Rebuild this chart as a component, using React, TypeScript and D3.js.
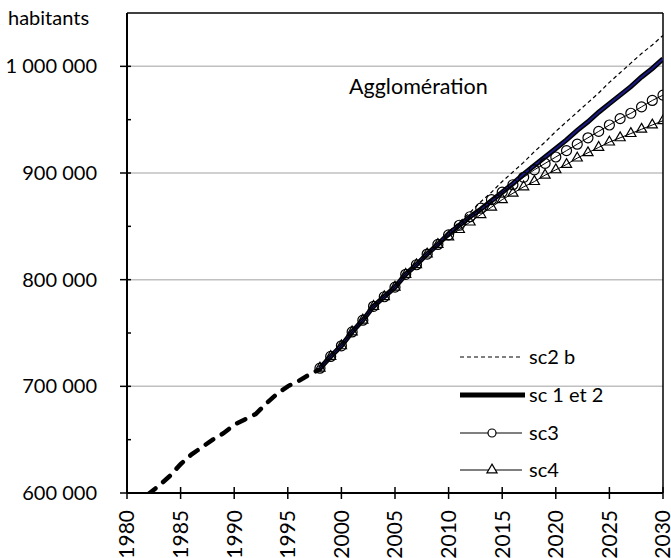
import React from "react";
import * as d3 from "d3";

const W = 671;
const H = 558;
const PL = 127, PR = 663, PT = 13, PB = 493;

// historical (thousands of inhabitants)
const histYears = [1982, 1983, 1984, 1985, 1986, 1987, 1988, 1989, 1990, 1991, 1992, 1993, 1994, 1995, 1996, 1997, 1998];
const histValues = [599, 607, 616, 627, 636, 643, 650, 656, 664, 669, 674, 684, 693, 700, 705, 711, 716];

const projYears = [1998, 1999, 2000, 2001, 2002, 2003, 2004, 2005, 2006, 2007, 2008, 2009, 2010, 2011, 2012, 2013, 2014, 2015, 2016, 2017, 2018, 2019, 2020, 2021, 2022, 2023, 2024, 2025, 2026, 2027, 2028, 2029, 2030];
const sc12 = [717, 728, 738, 751, 762, 775, 784, 793, 805, 814, 824, 833, 843, 851, 859, 866, 874, 882, 890, 899, 907, 915, 923, 931, 940, 948, 957, 965, 973, 981, 990, 998, 1007];
const sc2b = [717, 728, 738, 751, 762, 775, 784, 793, 805, 814, 824, 833, 845, 854, 863, 873, 882, 892, 901, 910, 920, 929, 939, 948, 957, 966, 975, 985, 994, 1003, 1012, 1020, 1029];
const sc3 = [717, 728, 738, 751, 762, 775, 784, 793, 805, 814, 824, 833, 842, 851, 859, 867, 875, 882, 889, 896, 903, 909, 915, 921, 927, 933, 939, 945, 951, 956, 962, 968, 973];
const sc4 = [717, 728, 738, 751, 762, 775, 784, 793, 805, 814, 824, 833, 840, 847, 854, 861, 868, 875, 881, 887, 892, 898, 903, 908, 914, 919, 924, 929, 933, 937, 941, 945, 949];

const xTicks = [1980, 1985, 1990, 1995, 2000, 2005, 2010, 2015, 2020, 2025, 2030];
const yTicks = [600000, 700000, 800000, 900000, 1000000];
const yMinorTicks = [650000, 750000, 850000, 950000];
const legendLabels = ["sc2 b", "sc 1 et 2", "sc3", "sc4"];

const FONT = "Lato, 'Liberation Sans', sans-serif";

export default function App() {
  const x = d3.scaleLinear().domain([1980, 2030]).range([PL, PR]);
  const y = d3.scaleLinear().domain([600000, 1050000]).range([PB, PT]);
  const fmt = (v: number) => d3.format(",")(v).replace(/,/g, " ");

  const lineP = d3
    .line<[number, number]>()
    .x((d) => x(d[0]))
    .y((d) => y(d[1] * 1000));
  const pts = (ys: number[], vs: number[]) => ys.map((yr, i) => [yr, vs[i]] as [number, number]);

  const tri = d3.symbol().type(d3.symbolTriangle).size(45)();

  const legendY = [357, 395, 433, 470];
  const lx0 = 460, lx1 = 522, ltx = 529;

  return (
    <svg width={W} height={H} style={{ position: "absolute", left: 0, top: 0 }} fontFamily={FONT}>
      <rect width={W} height={H} fill="#fff" />
      <defs>
        <clipPath id="plot">
          <rect x={PL} y={PT} width={PR - PL} height={PB - PT} />
        </clipPath>
      </defs>
      {/* gridlines */}
      {yTicks.slice(1).map((t) => (
        <line key={t} x1={PL} x2={PR} y1={y(t)} y2={y(t)} stroke="#c0c0c0" strokeWidth={1.5} />
      ))}
      {/* frame */}
      <line x1={PL} x2={PR} y1={PT} y2={PT} stroke="#000" strokeWidth={1.5} />
      <line x1={PR} x2={PR} y1={PT} y2={PB} stroke="#000" strokeWidth={1.5} />
      {/* y axis */}
      <line x1={PL} x2={PL} y1={PT} y2={PB} stroke="#000" strokeWidth={2} />
      {yTicks.map((t) => (
        <g key={t}>
          <line x1={PL - 7} x2={PL + 4} y1={y(t)} y2={y(t)} stroke="#000" strokeWidth={1.5} />
          <text x={97} y={y(t)} dy="0.35em" textAnchor="end" fontSize={20}>
            {fmt(t)}
          </text>
        </g>
      ))}
      {yMinorTicks.map((t) => (
        <line key={t} x1={PL} x2={PL + 4} y1={y(t)} y2={y(t)} stroke="#000" strokeWidth={1.5} />
      ))}
      {/* x axis */}
      <line x1={PL} x2={PR} y1={PB} y2={PB} stroke="#000" strokeWidth={2} />
      {xTicks.map((t) => (
        <g key={t}>
          <line x1={x(t)} x2={x(t)} y1={PB - 6} y2={PB + 6} stroke="#000" strokeWidth={1.5} />
          <text
            transform={`translate(${x(t)},${510}) rotate(-90)`}
            dy="0.35em"
            textAnchor="end"
            fontSize={21}
          >
            {t}
          </text>
        </g>
      ))}
      <text x={8} y={25} fontSize={20}>habitants</text>
      <text x={349} y={94} fontSize={21.5}>Agglomération</text>

      <g clipPath="url(#plot)">
        <path d={lineP(pts(histYears, histValues)) || ""} fill="none" stroke="#000" strokeWidth={4.5} strokeDasharray="9 10" strokeLinecap="round" />
        <path d={lineP(pts(projYears, sc2b)) || ""} fill="none" stroke="#000" strokeWidth={1.2} strokeDasharray="4 3" />
        <path d={lineP(pts(projYears, sc12)) || ""} fill="none" stroke="#000" strokeWidth={5} />
        <path d={lineP(pts(projYears, sc12)) || ""} fill="none" stroke="#1a1a80" strokeWidth={2} />
        <path d={lineP(pts(projYears, sc3)) || ""} fill="none" stroke="#000" strokeWidth={1} />
        <path d={lineP(pts(projYears, sc4)) || ""} fill="none" stroke="#000" strokeWidth={1} />
        {projYears.map((yr, i) => (
          <circle key={"c" + yr} cx={x(yr)} cy={y(sc3[i] * 1000)} r={5} fill="none" stroke="#000" strokeWidth={1.2} />
        ))}
        {projYears.map((yr, i) => (
          <path key={"t" + yr} d={tri || ""} transform={`translate(${x(yr)},${y(sc4[i] * 1000)})`} fill="none" stroke="#000" strokeWidth={1.2} />
        ))}
      </g>

      {/* legend */}
      <g fontSize={20}>
        <line x1={lx0} x2={lx1} y1={legendY[0]} y2={legendY[0]} stroke="#000" strokeWidth={1.2} strokeDasharray="4 3" />
        <text x={ltx} y={legendY[0]} dy="0.35em">{legendLabels[0]}</text>
        <line x1={lx0} x2={lx1 + 3} y1={legendY[1]} y2={legendY[1]} stroke="#000" strokeWidth={5} />
        <text x={ltx} y={legendY[1]} dy="0.35em">{legendLabels[1]}</text>
        <line x1={lx0} x2={lx1} y1={legendY[2]} y2={legendY[2]} stroke="#000" strokeWidth={1} />
        <circle cx={492} cy={legendY[2]} r={4} fill="#fff" stroke="#000" strokeWidth={1.2} />
        <text x={ltx} y={legendY[2]} dy="0.35em">{legendLabels[2]}</text>
        <line x1={lx0} x2={lx1} y1={legendY[3]} y2={legendY[3]} stroke="#000" strokeWidth={1} />
        <path d={tri || ""} transform={`translate(492,${legendY[3]})`} fill="#fff" stroke="#000" strokeWidth={1.2} />
        <text x={ltx} y={legendY[3]} dy="0.35em">{legendLabels[3]}</text>
      </g>
    </svg>
  );
}
